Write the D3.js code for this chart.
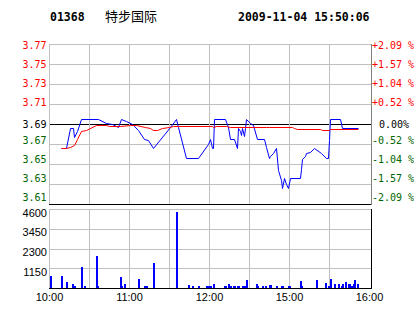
<!DOCTYPE html>
<html>
<head>
<meta charset="utf-8">
<script src="https://cdn.jsdelivr.net/npm/d3@7"></script>
<style>
    body { margin: 0; background: #fff; }
    svg { display: block; }
</style>
</head>
<body>
<div id="content"></div>
<script>
/*
    Header texts
*/
var stockCode = "01368",
    stockName = "特步国际",
    stamp = "2009-11-04 15:50:06";
/*
    Price axis: previous close and the +/- range shown
*/
var prevClose = 3.69,
    maxPct = 0.0209;
var priceLabels = ["3.77", "3.75", "3.73", "3.71", "3.69", "3.67", "3.65", "3.63", "3.61"];
var pctLabels = ["+2.09 %", "+1.57 %", "+1.04 %", "+0.52 %", "0.00%", "-0.52 %", "-1.04 %", "-1.57 %", "-2.09 %"];
var volMax = 4600;
var volLabels = ["4600", "3450", "2300", "1150"];
var timeLabels = ["10:00", "11:00", "12:00", "15:00", "16:00"];
/*
    Minute price line (blue)
*/
var priceTimes = ["10:09", "10:13", "10:16", "10:18", "10:19", "10:21", "10:24", "10:37", "10:43", "10:47",
    "10:52", "10:54", "10:58", "11:02", "11:04", "11:07", "11:11", "11:14", "11:18", "11:31",
    "11:35", "11:37", "11:43", "11:52", "11:59", "12:01", "12:02", "12:03", "12:04", "12:12",
    "12:14", "12:16", "12:19", "12:21", "12:22", "12:23", "12:24", "12:25", "12:26", "12:27",
    "12:28", "14:31", "14:33", "14:36", "14:41", "14:43", "14:45", "14:46", "14:48", "14:50",
    "14:52", "14:54", "14:55", "14:56", "14:58", "14:59", "15:01", "15:08", "15:09", "15:10",
    "15:12", "15:13", "15:16", "15:19", "15:24", "15:28", "15:29", "15:30", "15:31", "15:38",
    "15:40", "15:52"];
var prices = [3.667, 3.667, 3.686, 3.686, 3.677, 3.683, 3.695, 3.695, 3.691, 3.690,
    3.687, 3.695, 3.693, 3.690, 3.688, 3.684, 3.676, 3.675, 3.667, 3.687,
    3.695, 3.687, 3.657, 3.657, 3.671, 3.676, 3.667, 3.667, 3.695, 3.695,
    3.687, 3.676, 3.676, 3.667, 3.686, 3.683, 3.679, 3.686, 3.678, 3.686,
    3.695, 3.691, 3.689, 3.676, 3.676, 3.668, 3.657, 3.659, 3.662, 3.667,
    3.646, 3.636, 3.628, 3.638, 3.632, 3.628, 3.638, 3.638, 3.647, 3.656,
    3.659, 3.662, 3.663, 3.667, 3.662, 3.657, 3.657, 3.675, 3.695, 3.695,
    3.686, 3.686];
/*
    Average price line (red)
*/
var avgTimes = ["10:09", "10:13", "10:16", "10:19", "10:21", "10:24", "10:28", "10:35", "10:43", "10:45",
    "10:53", "11:01", "11:05", "11:12", "11:16", "11:18", "11:21", "11:25", "11:30", "11:33",
    "12:02", "12:03", "12:05", "12:13", "12:16", "14:43", "14:45", "15:02", "15:04", "15:06",
    "15:23", "15:25", "15:30", "15:31", "15:52"];
var avgPrices = [3.667, 3.667, 3.668, 3.670, 3.676, 3.683, 3.684, 3.689, 3.689, 3.688,
    3.688, 3.689, 3.689, 3.687, 3.686, 3.684, 3.684, 3.686, 3.687, 3.688,
    3.688, 3.687, 3.688, 3.688, 3.687, 3.687, 3.687, 3.687, 3.686, 3.685,
    3.685, 3.684, 3.684, 3.685, 3.685];
/*
    Minute volume bars
*/
var volTimes = ["10:01", "10:09", "10:13", "10:17", "10:18", "10:19", "10:24", "10:26", "10:35", "10:36",
    "10:53", "10:54", "10:56", "11:07", "11:11", "11:13", "11:18", "11:35", "11:44", "11:47",
    "11:52", "11:58", "11:59", "12:01", "12:03", "12:11", "12:12", "12:14", "12:16", "12:18",
    "12:19", "12:21", "12:22", "12:25", "12:26", "12:28", "14:35", "14:36", "14:40", "14:42",
    "14:45", "14:46", "14:50", "14:54", "14:55", "14:59", "15:00", "15:08", "15:09", "15:20",
    "15:27", "15:29", "15:31", "15:34", "15:37", "15:39", "15:40", "15:42", "15:44", "15:45",
    "15:46", "15:47", "15:48", "15:49", "15:51"];
var volumes = [700, 680, 350, 230, 130, 130, 1220, 120, 1860, 120,
    640, 120, 230, 520, 120, 120, 1470, 4420, 170, 120,
    120, 120, 120, 120, 230, 120, 120, 230, 120, 120,
    120, 120, 120, 120, 120, 460, 230, 120, 120, 120,
    170, 170, 120, 120, 120, 120, 120, 400, 120, 460,
    290, 120, 520, 230, 230, 120, 230, 350, 230, 230,
    120, 120, 230, 460, 230];

/*
    Layout
*/
var W = 414, H = 314,
    left = 49, right = 369, frameRight = 371,
    pTop = 44, pBot = 204,
    vTop = 209, vBot = 288;
var red = "#ff0000", green = "#006600", grid = "#c0c0c0";
var mono = "'DejaVu Sans Mono', monospace",
    sans = "'Liberation Sans', Arial, sans-serif";

/*
    Trading minute since 10:00 (lunch break 12:30-14:30 removed)
*/
function toMin(t) {
    var p = t.split(":"), m = +p[0] * 60 + +p[1];
    return m <= 750 ? m - 600 : m - 870 + 150;
}

var svg = d3.select("#content").append("svg")
    .attr("width", W)
    .attr("height", H);

var x = d3.scaleLinear().domain([0, 240]).range([left, right]);
var y = d3.scaleLinear()
    .domain([prevClose * (1 - maxPct), prevClose * (1 + maxPct)])
    .range([pBot, pTop]);
var yv = d3.scaleLinear().domain([0, volMax]).range([vBot, vTop]);
/* label baselines sit on a slightly tighter spacing than the grid */
var labelY = d3.scaleLinear().domain([0, 8]).range([49, 200.7]);

/*
    Header
*/
var head = svg.append("g").attr("font-family", mono).attr("font-weight", "bold").attr("font-size", 11.5);
head.append("text").attr("x", 50).attr("y", 20.5).text(stockCode);
head.append("text").attr("x", 238).attr("y", 20.5).text(stamp);
svg.append("text").attr("x", 105).attr("y", 20.5)
    .attr("font-family", "'Noto Sans CJK SC', sans-serif")
    .attr("font-size", 13)
    .text(stockName);

/*
    Price panel grid
*/
var gridG = svg.append("g").attr("shape-rendering", "crispEdges");
var priceGrid = d3.range(9).map(function (i) { return y.domain()[1] - i * (y.domain()[1] - y.domain()[0]) / 8; });
gridG.selectAll(".ph").data(priceGrid).enter().append("line")
    .attr("x1", left).attr("x2", frameRight)
    .attr("y1", function (d) { return Math.round(y(d)) + 0.5; })
    .attr("y2", function (d) { return Math.round(y(d)) + 0.5; })
    .attr("stroke", function (d, i) { return (i == 4 || i == 8) ? "#000" : grid; });

var vGrid = d3.range(0, 240, 30);
gridG.selectAll(".pv").data(vGrid).enter().append("line")
    .attr("x1", function (d) { return Math.round(x(d)) + 0.5; })
    .attr("x2", function (d) { return Math.round(x(d)) + 0.5; })
    .attr("y1", pTop).attr("y2", pBot)
    .attr("stroke", grid);
gridG.append("line")
    .attr("x1", frameRight + 0.5).attr("x2", frameRight + 0.5)
    .attr("y1", pTop).attr("y2", pBot + 1)
    .attr("stroke", "#808080");

/*
    Volume panel grid
*/
var volGrid = d3.range(5).map(function (i) { return volMax - i * volMax / 4; });
gridG.selectAll(".vh").data(volGrid).enter().append("line")
    .attr("x1", left).attr("x2", frameRight)
    .attr("y1", function (d) { return Math.round(yv(d)) + 0.5; })
    .attr("y2", function (d) { return Math.round(yv(d)) + 0.5; })
    .attr("stroke", function (d) { return d == 0 ? "#000" : grid; });
gridG.selectAll(".vv").data(vGrid).enter().append("line")
    .attr("x1", function (d) { return Math.round(x(d)) + 0.5; })
    .attr("x2", function (d) { return Math.round(x(d)) + 0.5; })
    .attr("y1", vTop).attr("y2", vBot)
    .attr("stroke", grid);
gridG.append("line")
    .attr("x1", frameRight + 0.5).attr("x2", frameRight + 0.5)
    .attr("y1", vTop).attr("y2", vBot + 1)
    .attr("stroke", "#000");

/*
    Left and right price labels
*/
function labelColor(i) { return i < 4 ? red : (i == 4 ? "#000" : green); }
function labelBase(i) { return i == 4 ? y(prevClose) + 4.3 : labelY(i); }

svg.append("g").selectAll("text").data(priceLabels).enter().append("text")
    .attr("x", 46.5)
    .attr("y", function (d, i) { return labelBase(i); })
    .attr("text-anchor", "end")
    .attr("font-family", mono).attr("font-size", 10)
    .attr("fill", function (d, i) { return labelColor(i); })
    .text(function (d) { return d; });

svg.append("g").selectAll("text").data(pctLabels).enter().append("text")
    .attr("x", function (d, i) { return i == 4 ? 379 : 372; })
    .attr("y", function (d, i) { return labelBase(i); })
    .attr("font-family", mono).attr("font-size", 10)
    .attr("fill", function (d, i) { return labelColor(i); })
    .text(function (d) { return d; });

/*
    Volume labels
*/
svg.append("g").selectAll("text").data(volLabels).enter().append("text")
    .attr("x", 47)
    .attr("y", function (d) { return yv(+d) + 7.5; })
    .attr("text-anchor", "end")
    .attr("font-family", sans).attr("font-size", 11)
    .attr("fill", "#000")
    .text(function (d) { return d; });

/*
    Time axis
*/
var xAxis = d3.axisBottom(x)
    .tickValues(timeLabels.map(toMin))
    .tickFormat(function (d, i) { return timeLabels[i]; })
    .tickSize(0)
    .tickPadding(0);
var axG = svg.append("g")
    .attr("transform", "translate(0," + 293 + ")")
    .call(xAxis);
axG.select(".domain").remove();
axG.selectAll("text")
    .attr("font-family", sans).attr("font-size", 11)
    .attr("fill", "#000").attr("dy", "0.71em");

/*
    Volume bars
*/
svg.append("g").attr("shape-rendering", "crispEdges")
    .selectAll("rect")
    .data(volTimes)
    .enter()
    .append("rect")
    .attr("x", function (d) { return Math.round(x(toMin(d))); })
    .attr("width", 1.5)
    .attr("y", function (d, i) { return yv(volumes[i]); })
    .attr("height", function (d, i) { return vBot - yv(volumes[i]); })
    .attr("fill", "#0000ff");

/*
    Price and average lines, snapped to the pixel grid so flat runs stay crisp
*/
var line = d3.line()
    .x(function (d) { return Math.round(x(toMin(d[0]))) + 0.5; })
    .y(function (d) { return Math.round(y(d[1])) + 0.5; });

svg.append("path")
    .datum(d3.zip(priceTimes, prices))
    .attr("d", line)
    .attr("fill", "none")
    .attr("stroke", "#0000ff")
    .attr("stroke-width", 1);

svg.append("path")
    .datum(d3.zip(avgTimes, avgPrices))
    .attr("d", line)
    .attr("fill", "none")
    .attr("stroke", red)
    .attr("stroke-width", 1);
</script>
</body>
</html>
